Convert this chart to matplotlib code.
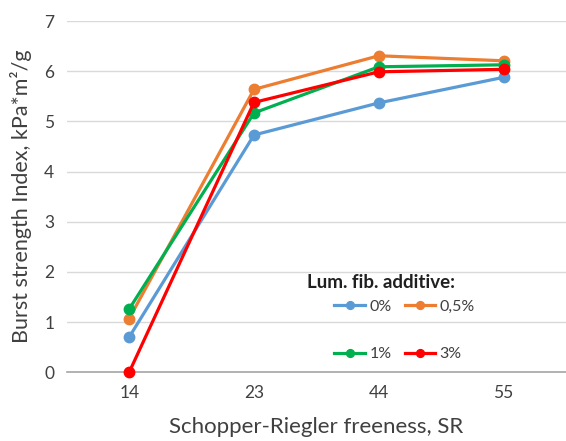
import numpy as np
import matplotlib.pyplot as plt

plt.rcParams['font.family'] = ['Lato', 'DejaVu Sans']

# data
freeness = ['14', '23', '44', '55']
burst_0 = [0.70, 4.73, 5.37, 5.88]
burst_05 = [1.07, 5.64, 6.31, 6.21]
burst_1 = [1.26, 5.17, 6.09, 6.13]
burst_3 = [0.0, 5.38, 5.99, 6.04]

fig = plt.figure(figsize=(5.66, 4.41), dpi=100)
ax = fig.add_axes([0.118, 0.156, 0.882, 0.796])

x = np.arange(len(freeness))
lw = 2.3
ms = 7.5
l0, = ax.plot(x, burst_0, color='#5B9BD5', lw=lw, marker='o', ms=ms, label='0%', zorder=3)
l05, = ax.plot(x, burst_05, color='#ED7D31', lw=lw, marker='o', ms=ms, label='0,5%', zorder=3)
l1, = ax.plot(x, burst_1, color='#00B050', lw=lw, marker='o', ms=ms, label='1%', zorder=3)
l3, = ax.plot(x, burst_3, color='#FF0000', lw=lw, marker='o', ms=ms, label='3%', zorder=4, clip_on=False)

ax.set_xlim(-0.5, len(freeness) - 0.5)
ax.set_ylim(0, 7)
ax.set_xticks(x)
ax.set_xticklabels(freeness)
ax.set_yticks(range(0, 8))
ax.tick_params(length=0, labelsize=12.5, colors='#404040', pad=9)
ax.grid(axis='y', color='#d9d9d9', lw=1)
ax.set_axisbelow(True)
for s in ['top', 'right', 'left']:
    ax.spines[s].set_visible(False)
ax.spines['bottom'].set_color('#a6a6a6')
ax.spines['bottom'].set_linewidth(1.2)

ax.set_xlabel('Schopper-Riegler freeness, SR', fontsize=16, color='#404040', labelpad=12)
ax.set_ylabel('Burst strength Index, kPa*m²/g', fontsize=15.5, color='#404040', labelpad=9)

fig.text(381 / 566, 1 - 283 / 441, 'Lum. fib. additive:', fontsize=13.5, fontweight='bold',
         ha='center', va='center', color='#202020')
leg = ax.legend(handles=[l0, l1, l05, l3], ncol=2, frameon=False, fontsize=11.5,
                loc='upper left', bbox_to_anchor=(320 / 566, 1 - 285 / 441),
                bbox_transform=fig.transFigure, handlelength=1.9, handletextpad=0.3,
                columnspacing=0.8, labelspacing=2.1, markerscale=0.75)
for t in leg.get_texts():
    t.set_color('#404040')

fig.savefig('out.png', dpi=100)
